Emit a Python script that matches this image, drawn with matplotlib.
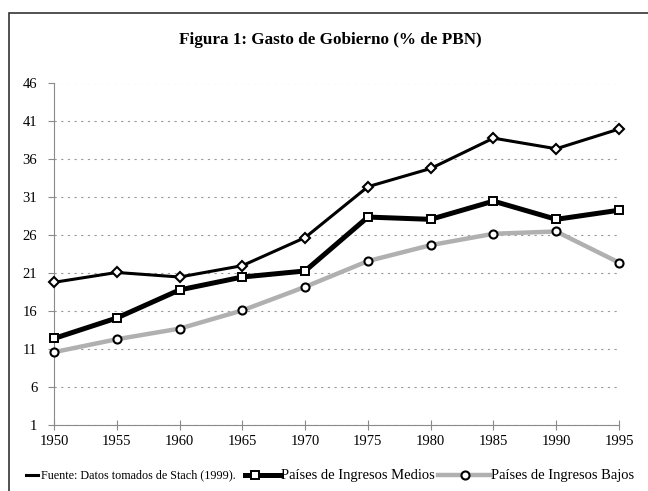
import matplotlib
matplotlib.use("Agg")
import matplotlib.pyplot as plt
from matplotlib.lines import Line2D
from matplotlib.patches import Rectangle

years = [1950, 1955, 1960, 1965, 1970, 1975, 1980, 1985, 1990, 1995]
fuente = [19.8, 21.1, 20.5, 22.0, 25.7, 32.4, 34.8, 38.8, 37.4, 40.0]
medios = [12.4, 15.1, 18.8, 20.5, 21.3, 28.4, 28.1, 30.5, 28.1, 29.3]
bajos = [10.6, 12.3, 13.7, 16.1, 19.2, 22.6, 24.7, 26.2, 26.5, 22.4]
yticks = [1, 6, 11, 16, 21, 26, 31, 36, 41, 46]

title = "Figura 1: Gasto de Gobierno (% de PBN)"
lab_fuente = "Fuente: Datos tomados de Stach (1999)."
lab_medios = "Países de Ingresos Medios"
lab_bajos = "Países de Ingresos Bajos"

plt.rcParams['font.family'] = ['Liberation Serif', 'DejaVu Serif']

W, H = 648, 491
fig = plt.figure(figsize=(W / 100, H / 100), dpi=100)

def fx(px):
    return px / W

def fy(py):
    return 1 - py / H

ax = fig.add_axes([fx(54), fy(425), fx(619) - fx(54), fy(83.5) - fy(425)])

gray_col = '#b0b0b0'
ax.plot(years, bajos, color=gray_col, lw=3.2, marker='o', ms=5.8,
        mfc='white', mec='black', mew=1.5, clip_on=False, zorder=3)
ax.plot(years, medios, color='black', lw=3.6, marker='s', ms=5.5,
        mfc='white', mec='black', mew=1.4, clip_on=False, zorder=4)
ax.plot(years, fuente, color='black', lw=2.2, marker='D', ms=5.3,
        mfc='white', mec='black', mew=1.5, clip_on=False, zorder=5)

ax.set_xlim(1950, 1995)
ax.set_ylim(1, 46)
ax.set_xticks(years)
ax.set_xticklabels([str(y) for y in years])
ax.set_yticks(yticks)
ax.set_yticklabels([str(v) for v in yticks])

for s in ['top', 'right']:
    ax.spines[s].set_visible(False)
for s in ['left', 'bottom']:
    ax.spines[s].set_color('#8a8a8a')
    ax.spines[s].set_linewidth(0.8)

ax.yaxis.grid(True, linestyle=(0, (2, 4)), color='#9a9a9a', linewidth=0.8)
ax.set_axisbelow(True)
ax.tick_params(axis='y', direction='out', length=4, width=0.8, color='#8a8a8a',
               labelsize=10.5, pad=8)
ax.tick_params(axis='x', direction='inout', length=7, width=0.8, color='#8a8a8a',
               labelsize=10.5, pad=4)

fig.text(fx(330), fy(40), title, ha='center', va='center',
         fontsize=12.3, fontweight='bold')

# outer frame
fig.add_artist(Rectangle((fx(9), fy(800)), fx(1000), fy(13) - fy(800),
                         transform=fig.transFigure, fill=False,
                         edgecolor='#333333', linewidth=1.2, clip_on=False))

# legend
ly = fy(475)
fig.add_artist(Line2D([fx(26), fx(38)], [ly, ly], transform=fig.transFigure,
                      color='black', lw=2.2))
fig.text(fx(41), ly, lab_fuente, fontsize=8.7, va='center', ha='left')

fig.add_artist(Line2D([fx(245), fx(280)], [ly, ly], transform=fig.transFigure,
                      color='black', lw=3.6))
fig.add_artist(Line2D([fx(255)], [ly], transform=fig.transFigure, marker='s',
                      ms=5.5, mfc='white', mec='black', mew=1.4))
fig.text(fx(281), ly, lab_medios, fontsize=10.5, va='center', ha='left')

fig.add_artist(Line2D([fx(438), fx(490)], [ly, ly], transform=fig.transFigure,
                      color=gray_col, lw=3.2))
fig.add_artist(Line2D([fx(465)], [ly], transform=fig.transFigure, marker='o',
                      ms=5.8, mfc='white', mec='black', mew=1.5))
fig.text(fx(491), ly, lab_bajos, fontsize=10.5, va='center', ha='left')

fig.savefig("out.png", dpi=100)
